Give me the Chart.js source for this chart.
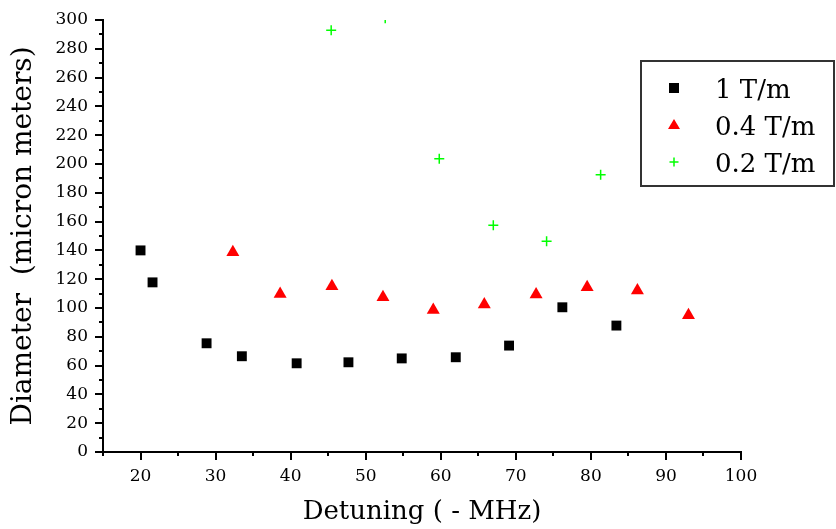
<!DOCTYPE html>
<html>
<head>
<meta charset="utf-8">
<script src="https://cdn.jsdelivr.net/npm/chart.js@4.4.0/dist/chart.umd.min.js"></script>
<style>
  html, body { margin: 0; padding: 0; background: #fff; }
  #wrap { width: 836px; height: 529px; }
</style>
</head>
<body>
<div id="wrap"><canvas id="chart"></canvas></div>
<script>
// values
const seriesNames = ['1 T/m', '0.4 T/m', '0.2 T/m'];

const detuning1T = [20.0, 21.6, 28.8, 33.5, 40.8, 47.7, 54.8, 62.0, 69.1, 76.2, 83.4];
const diameter1T = [140, 117.8, 75.5, 66.5, 61.6, 62.3, 65.0, 65.8, 73.9, 100.5, 87.8];

const detuning04T = [32.3, 38.6, 45.5, 52.3, 59.0, 65.8, 72.7, 79.5, 86.2, 93.0];
const diameter04T = [138.7, 109.7, 115.1, 107.4, 98.6, 102.4, 109.3, 114.4, 112.1, 94.9];

const detuning02T = [45.4, 52.6, 59.8, 67.0, 74.1, 81.3];
const diameter02T = [292.8, 301.2, 203.7, 157.4, 146.3, 192.6];

const FONT = 'DejaVu Serif';

function toPoints(xs, ys) {
  return xs.map((x, i) => ({ x: x, y: ys[i] }));
}

// tick marks: long at labelled values, short in between
const tickMarks = {
  id: 'tickMarks',
  afterDraw(chart) {
    const ctx = chart.ctx;
    const xs = chart.scales.x, ys = chart.scales.y;
    const area = chart.chartArea;
    ctx.save();
    ctx.strokeStyle = '#000';
    ctx.lineWidth = 2;
    xs.ticks.forEach(t => {
      const px = Math.round(xs.getPixelForValue(t.value));
      const len = t.value % 10 === 0 ? 8 : 4;
      ctx.beginPath();
      ctx.moveTo(px, area.bottom);
      ctx.lineTo(px, area.bottom + len);
      ctx.stroke();
    });
    ys.ticks.forEach(t => {
      const py = Math.round(ys.getPixelForValue(t.value));
      const len = t.value % 20 === 0 ? 8 : 4;
      ctx.beginPath();
      ctx.moveTo(area.left, py);
      ctx.lineTo(area.left - len, py);
      ctx.stroke();
    });
    ctx.restore();
  }
};

// boxed legend inside the plot, upper right
const boxLegend = {
  id: 'boxLegend',
  afterDraw(chart) {
    const ctx = chart.ctx;
    ctx.save();
    ctx.strokeStyle = '#333';
    ctx.lineWidth = 2;
    ctx.fillStyle = '#fff';
    ctx.fillRect(641, 61, 193, 125);
    ctx.strokeRect(641, 61, 193, 125);

    const rows = [88, 125, 162];
    const mx = 674;
    // square
    ctx.fillStyle = '#000';
    ctx.fillRect(mx - 5, rows[0] - 5, 10, 10);
    // triangle
    ctx.fillStyle = '#ff0000';
    ctx.beginPath();
    ctx.moveTo(mx, rows[1] - 6);
    ctx.lineTo(mx + 6, rows[1] + 4);
    ctx.lineTo(mx - 6, rows[1] + 4);
    ctx.closePath();
    ctx.fill();
    // cross
    ctx.strokeStyle = '#00ff00';
    ctx.lineWidth = 1.5;
    ctx.beginPath();
    ctx.moveTo(mx - 4.5, rows[2]);
    ctx.lineTo(mx + 4.5, rows[2]);
    ctx.moveTo(mx, rows[2] - 4.5);
    ctx.lineTo(mx, rows[2] + 4.5);
    ctx.stroke();

    ctx.fillStyle = '#000';
    ctx.font = '26px "' + FONT + '"';
    ctx.textBaseline = 'alphabetic';
    ctx.textAlign = 'left';
    const baselines = [98, 135, 172];
    seriesNames.forEach((s, i) => ctx.fillText(s, 715, baselines[i]));
    ctx.restore();
  }
};

new Chart(document.getElementById('chart'), {
  type: 'scatter',
  data: {
    datasets: [{
      label: seriesNames[0],
      data: toPoints(detuning1T, diameter1T),
      pointStyle: 'rect',
      pointRadius: 7,
      backgroundColor: '#000',
      borderColor: '#000',
      borderWidth: 0,
      clip: 0
    }, {
      label: seriesNames[1],
      data: toPoints(detuning04T, diameter04T),
      pointStyle: 'triangle',
      pointRadius: 7.5,
      backgroundColor: '#ff0000',
      borderColor: '#ff0000',
      borderWidth: 0,
      clip: 0
    }, {
      label: seriesNames[2],
      data: toPoints(detuning02T, diameter02T),
      pointStyle: 'cross',
      pointRadius: 5,
      backgroundColor: '#00ff00',
      borderColor: '#00ff00',
      borderWidth: 1.5,
      clip: 0
    }]
  },
  options: {
    responsive: true,
    maintainAspectRatio: false,
    animation: false,
    events: [],
    layout: { padding: { top: 20, right: 95, left: 0, bottom: 0 } },
    plugins: {
      legend: { display: false },
      tooltip: { enabled: false }
    },
    scales: {
      x: {
        type: 'linear',
        min: 15,
        max: 100,
        afterFit: s => { s.height = 77; },
        ticks: {
          stepSize: 5,
          autoSkip: false,
          maxRotation: 0,
          padding: 6,
          color: '#000',
          font: { family: FONT, size: 17 },
          callback: v => (v % 10 === 0 ? v : '')
        },
        grid: { drawOnChartArea: false, drawTicks: true, tickLength: 8, tickColor: 'rgba(0,0,0,0)' },
        border: { display: true, color: '#000', width: 2 },
        title: {
          display: true,
          text: 'Detuning ( - MHz)',
          color: '#000',
          font: { family: FONT, size: 26 },
          padding: { top: 0, bottom: 1 }
        }
      },
      y: {
        min: 0,
        max: 300,
        afterFit: s => { s.width = 103; },
        ticks: {
          stepSize: 10,
          autoSkip: false,
          padding: 7,
          color: '#000',
          font: { family: FONT, size: 17 },
          callback: v => (v % 20 === 0 ? v : '')
        },
        grid: { drawOnChartArea: false, drawTicks: true, tickLength: 8, tickColor: 'rgba(0,0,0,0)' },
        border: { display: true, color: '#000', width: 2 },
        title: {
          display: true,
          text: 'Diameter  (micron meters)',
          color: '#000',
          font: { family: FONT, size: 28 },
          padding: { top: 7, bottom: 0 }
        }
      }
    }
  },
  plugins: [tickMarks, boxLegend]
});
</script>
</body>
</html>
